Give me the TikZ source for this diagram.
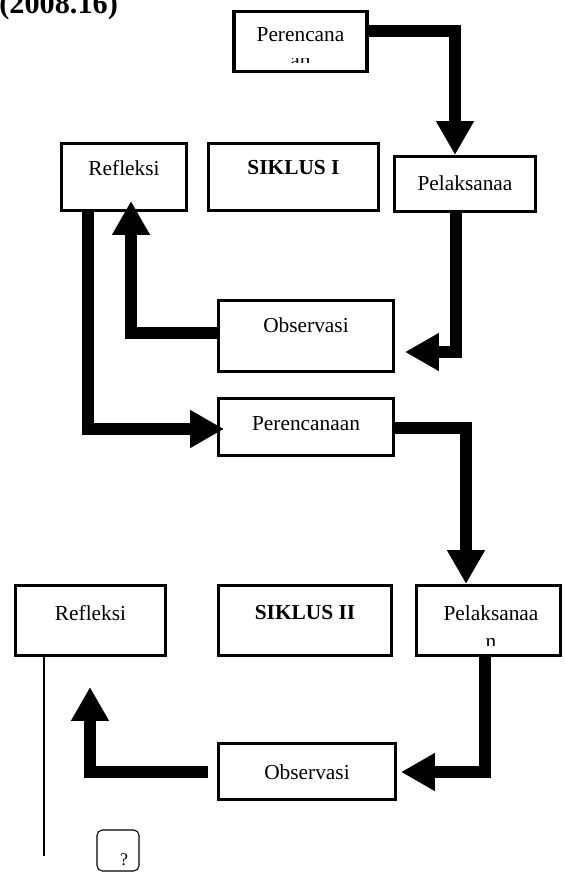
\documentclass[tikz,border=0pt]{standalone}
\usepackage{fontspec}
\setmainfont{Liberation Serif}
\usetikzlibrary{arrows.meta}

\tikzset{
  kotak/.style={draw,line width=1.7pt,inner sep=0pt},
  ukuran/.style 2 args={minimum width=#1*0.5618pt,minimum height=#2*0.5618pt},
  panah/.style={line width=6.2pt,-{Triangle[length=19pt,width=20pt]}},
  teks/.style={font=\fontsize{12}{14}\selectfont,inner sep=0pt},
  tebal/.style={font=\fontsize{12}{14}\selectfont\bfseries,inner sep=0pt},
}

\begin{document}
\begin{tikzpicture}[x=0.5618pt,y=-0.5618pt]
\useasboundingbox (0,0) rectangle (565,873);
\node[font=\fontsize{17}{20}\selectfont\bfseries,inner sep=0pt,anchor=base west] (judul) at (-1,13) {(2008.16)};
% siklus I
\node[kotak,ukuran={133}{60}] (ren1) at (300.5,41.5) {};
\node[teks] (ren1t) at (300.5,35) {Perencana};
\begin{scope}
\clip (240,58.5) rectangle (360,62);
\node[teks] (ren1n) at (300.5,63) {an};
\end{scope}
\node[kotak,ukuran={125}{67}] (ref1) at (124,177) {};
\node[teks] (ref1t) at (124,168) {Refleksi};
\node[kotak,ukuran={170}{67}] (sik1) at (293.5,177) {};
\node[tebal] (sik1t) at (293.5,168) {SIKLUS I};
\node[kotak,ukuran={141}{55}] (pel1) at (465,184) {};
\node[teks] (pel1t) at (465,183) {Pelaksanaa};
\node[kotak,ukuran={175}{71}] (obs1) at (306,336) {};
\node[teks] (obs1t) at (306,325) {Observasi};
\node[kotak,ukuran={175}{57}] (ren2) at (306,427) {};
\node[teks] (ren2t) at (306,424) {Perencanaan};
% siklus II
\node[kotak,ukuran={150}{70}] (ref2) at (90.5,620.5) {};
\node[teks] (ref2t) at (90.5,613) {Refleksi};
\node[kotak,ukuran={173}{70}] (sik2) at (305,620.5) {};
\node[tebal] (sik2t) at (305,613) {SIKLUS II};
\node[kotak,ukuran={144}{70}] (pel2) at (488.5,620.5) {};
\node[teks] (pel2t) at (491,613) {Pelaksanaa};
\begin{scope}
\clip (420,637) rectangle (560,645);
\node[teks] (pel2n) at (491,643) {n};
\end{scope}
\node[kotak,ukuran={177}{56}] (obs2) at (307,771.5) {};
\node[teks] (obs2t) at (307,772) {Observasi};
\node[draw,line width=0.6pt,rounded corners=3pt,ukuran={42}{41}] (tanya) at (118,850.5) {};
\node[font=\fontsize{10}{12}\selectfont,inner sep=0pt] (tanyat) at (124,860) {?};
% panah
\coordinate (b1) at (405,352);
\coordinate (c1) at (131,201);
\coordinate (d1) at (224,429);
\coordinate (f1) at (401,772);
\coordinate (g0) at (208,772);
\coordinate (g1) at (90,687);
\coordinate (garis) at (44,856);
\draw[panah] (ren1.east |- 0,31) -| (455,0 |- pel1.north);
\draw[panah] (456,0 |- pel1.south) |- (b1);
\draw[panah] (obs1.west |- 0,333) -| (c1);
\draw[panah] (88,0 |- ref1.south) |- (d1);
\draw[panah] (ren2.east |- 0,428) -| (466,0 |- pel2.north);
\draw[panah] (485,0 |- pel2.south) |- (f1);
\draw[panah] (g0) -| (g1);
\draw[line width=0.8pt] (44,0 |- ref2.south) -- (garis);
\end{tikzpicture}
\end{document}
